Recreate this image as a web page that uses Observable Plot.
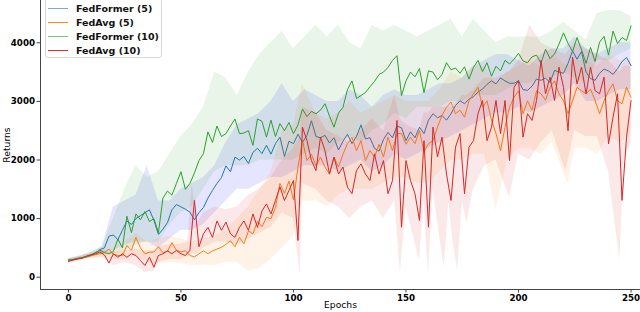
<!DOCTYPE html>
<html><head><meta charset="utf-8">
<script src="https://cdn.jsdelivr.net/npm/d3@7"></script>
<script src="https://cdn.jsdelivr.net/npm/@observablehq/plot@0.6"></script>
<style>
body{margin:0;background:#fff;}
#wrap{position:relative;width:640px;height:312px;overflow:hidden;}
svg text{font-family:"DejaVu Sans",sans-serif;}
g[aria-label="x-axis tick label"] text, g[aria-label="y-axis tick label"] text{font-weight:bold;}
g[aria-label="x-axis label"] text, g[aria-label="y-axis label"] text{font-size:9.2px;font-weight:normal;}
#legend{position:absolute;left:45px;top:-2px;width:115px;height:58px;border:1px solid #d6d6d6;border-radius:3px;background:rgba(255,255,255,0.85);font-family:"DejaVu Sans",sans-serif;font-weight:bold;font-size:9.5px;color:#111;}
#legend .row{position:absolute;left:0;height:14px;display:flex;align-items:center;}
#legend .sw{width:20px;height:0;border-top:1.5px solid;margin-left:2px;margin-right:8px;}
</style></head>
<body><div id="wrap"><div id="legend"></div></div>
<script>
const epochs = d3.range(0, 251, 2);
const xTicks = [0, 50, 100, 150, 200, 250];
const yTicks = [0, 1000, 2000, 3000, 4000];
const xDomain = [-12.4, 254.2];
const yDomain = [-210, 4722];

const names = ["FedFormer (5)", "FedAvg (5)", "FedFormer (10)", "FedAvg (10)"];
const lineColors = ["#1f77b4", "#ff7f0e", "#2ca02c", "#d62728"];
const bandColors = ["#0000ff", "#ff7f0e", "#2ca02c", "#d62728"];
const legendColors = ["#7aa9d6", "#ff8a24", "#7cc07c", "#e03030"];

const fedFormer5 = [
290,300,320,330,350,370,410,470,500,700,
720,640,800,960,900,1000,1050,1100,1150,970,
730,820,930,1150,1240,1200,1160,1110,980,1100,
1190,1350,1480,1600,1700,1900,1800,2050,2000,2060,
1940,2130,2200,2110,2250,2100,2280,2390,2060,2320,
2280,2440,2300,2420,2670,2400,2380,2420,2290,2380,
2170,2320,2440,2280,2400,2600,2360,2380,2200,2150,
2350,2470,2380,2580,2550,2330,2480,2380,2560,2450,
2680,2790,2720,2760,2680,2790,2930,3010,2960,3040,
3080,3160,3210,3290,3350,3300,3400,3350,3310,3310,
3350,3200,3190,3260,3380,3360,3400,3320,3530,3500,
3480,3650,3860,3720,3850,3500,3390,3360,3480,3550,
3520,3460,3560,3680,3750,3610];
const fedAvg5 = [
290,300,315,330,345,370,385,400,420,480,
390,370,370,540,460,680,500,400,425,430,
520,420,440,590,460,430,450,370,345,400,
450,400,450,480,510,560,620,520,680,570,
790,740,960,860,1020,1000,1190,1600,1430,1640,
1320,1880,2330,1990,2100,1900,2050,1880,1760,2050,
1880,2100,2280,2390,2160,2330,1990,2160,2050,2270,
2050,2390,2160,2450,2450,2270,2390,2280,2500,2140,
2280,2330,2560,2760,2900,2990,2790,2850,2730,3010,
3130,3240,2900,3010,2680,2450,2160,2560,2900,3070,
3180,2790,3010,2850,3180,3130,3020,3240,3350,3130,
3010,2790,3010,3240,3180,3130,3210,3020,2790,3010,
3180,3300,3010,2960,3240,3070];
const fedFormer10 = [
290,300,320,335,350,380,420,460,420,400,
440,650,500,1040,760,1080,980,1120,950,1000,
760,1350,1470,1400,1600,1800,1500,1600,1780,1990,
2110,2480,2300,2580,2400,2450,2580,2700,2450,2460,
2500,2250,2700,2660,2390,2680,2400,2620,2500,2640,
2450,2600,2870,2740,2830,2790,2850,2960,2750,2560,
2800,2900,3200,3350,3050,3100,3150,3250,3340,3460,
3500,3580,3700,3780,3100,3350,3500,3420,3560,3150,
3520,3500,3370,3460,3660,3540,3570,3480,3590,3380,
3580,3700,3510,3660,3430,3600,3520,3700,3640,3720,
3820,3690,3660,3760,3790,3650,3890,3730,3810,3980,
4170,3990,3850,4090,3880,3650,3920,3680,4010,4110,
3790,4200,3990,4090,4040,4290];
const fedAvg10 = [
270,290,310,320,360,380,400,430,380,240,
400,340,400,340,400,370,285,200,340,170,
370,400,450,400,455,400,370,460,1310,520,
740,850,680,960,800,940,740,680,850,960,
800,1080,850,1130,1250,1080,1310,1540,1310,1480,
1650,626,2560,2330,1990,1820,2390,2160,1760,2050,
1760,1880,1535,1425,1820,1935,1760,1650,2105,1760,
1990,1425,1650,2675,853,1990,1650,1425,967,2330,
853,2560,2050,2390,1760,1310,2220,2450,1425,2220,
2330,2790,3015,2330,2560,3015,2450,3015,1990,3240,
3357,2390,2790,2675,3015,3700,3130,3415,3015,3585,
3240,2500,3755,3300,3585,3130,3585,3185,3130,3415,
2275,2730,3130,1310,2390,3015];

// shaded spread bands (epoch, lower, upper)
const fedFormer5BandEpochs = [0,5,10,15,20,25,30,35,40,45,50,55,60,65,70,75,80,85,90,95,100,105,110,115,120,125,130,135,140,145,150,155,160,165,170,175,180,185,190,195,200,205,210,215,220,225,230,235,240,245,250];
const fedFormer5Lo = [260,300,340,420,450,550,600,600,500,650,800,800,900,1100,1300,1500,1500,1600,1700,1700,1800,1900,1900,1900,1800,1900,2000,1800,1900,2100,2000,2100,2200,2300,2400,2500,2600,2700,2800,2800,2900,2800,2900,3000,3100,3300,3000,3000,3100,3200,3200];
const fedFormer5Hi = [320,360,420,520,1200,1300,1400,1900,1300,1300,1500,1600,1700,1900,2300,2600,2700,2800,3000,3300,3000,3200,3100,3000,3000,3200,3100,2900,3100,3200,3100,3100,3200,3300,3300,3400,3600,3700,3800,3800,3700,3600,3800,3900,3900,4100,3900,3800,3900,4000,4000];

const fedAvg5BandEpochs = [0,5,10,15,20,25,30,35,40,45,50,55,60,65,70,75,80,85,90,95,100,104,110,115,120,125,130,135,140,145,150,155,160,165,170,175,180,185,190,195,200,205,210,215,222,225,230,235,240,245,250];
const fedAvg5Lo = [250,290,320,330,300,300,350,250,220,250,230,200,200,200,250,250,100,150,300,500,700,1300,1300,1200,1400,1500,1500,1500,1600,1700,1700,1600,1600,1800,2000,2000,2100,2100,1140,2000,2200,2200,2100,2300,1590,2200,2200,2100,2400,2300,2400];
const fedAvg5Hi = [310,350,400,450,480,600,750,600,650,700,650,600,650,700,800,1000,1200,1500,1800,2500,2600,3300,2800,2700,2800,3000,2800,2900,3000,3100,3000,3000,3000,3200,3500,3400,3600,3600,3300,3500,3600,3700,3600,3800,3600,3700,3700,3600,3800,3700,3700];

const fedFormer10BandEpochs = fedFormer5BandEpochs;
const fedFormer10Lo = [260,300,340,400,380,450,550,600,600,900,1100,1200,1500,1800,1900,1900,1900,2000,2000,2000,2000,2100,2200,2100,2300,2400,2300,2500,2600,2800,2700,2900,2900,2900,3000,3000,3100,3100,3100,3200,3300,3300,3400,3400,3500,3400,3300,3700,3700,3800,3900];
const fedFormer10Hi = [320,360,420,520,1000,1500,1900,1700,1800,2100,2400,2600,2900,3500,3400,3100,3500,3800,4000,4200,3900,4100,4300,4100,4300,4000,3900,4300,4200,4300,4200,4100,4200,4300,4400,4100,4400,4200,4000,4100,4100,4100,4100,4200,4350,4200,4050,4500,4550,4550,4450];

const fedAvg10BandEpochs = [0,5,10,15,20,25,30,34,38,40,45,50,53,55,57,60,65,70,75,80,85,90,95,100,103,104,110,115,120,125,130,135,140,145,147.5,150,156,158,160,162,167,169,171,173,175,177,180,185,190,196,200,205,210,215,221,225,230,235,240,245,247,250];
const fedAvg10Lo = [240,280,320,350,200,250,200,80,100,250,300,300,350,400,400,500,600,600,550,650,750,850,1100,1000,30,1600,1500,1300,1200,1000,1200,1300,1000,1300,60,1200,285,1300,30,1500,150,1300,570,115,1300,915,1500,1900,2000,1360,2100,2000,2300,2500,1800,2500,2400,2400,1800,285,2000,2300];
const fedAvg10Hi = [300,340,400,460,420,450,480,450,450,520,560,560,600,1600,900,1100,1200,1150,1200,1400,1500,1700,2000,2200,2400,2900,2800,2500,2400,2300,2500,2700,2500,3100,2700,2600,2500,2800,2800,2900,2900,2900,2900,3000,3100,3100,3200,3400,3400,3500,3700,4300,4000,3900,3800,4000,3900,3800,3700,3500,3600,3600];

const means = [fedFormer5, fedAvg5, fedFormer10, fedAvg10];
const bandEpochs = [fedFormer5BandEpochs, fedAvg5BandEpochs, fedFormer10BandEpochs, fedAvg10BandEpochs];
const los = [fedFormer5Lo, fedAvg5Lo, fedFormer10Lo, fedAvg10Lo];
const his = [fedFormer5Hi, fedAvg5Hi, fedFormer10Hi, fedAvg10Hi];
const opac = [0.1, 0.1, 0.1, 0.1];

const marks = [];
means.forEach((vals, s) => {
  const lineRows = epochs.map((e, i) => ({e, v: vals[i]}));
  const bandRows = bandEpochs[s].map((e, i) => ({e, lo: los[s][i], hi: his[s][i]}));
  marks.push(Plot.areaY(bandRows, {x: "e", y1: "lo", y2: "hi", fill: bandColors[s], fillOpacity: opac[s]}));
  marks.push(Plot.line(lineRows, {x: "e", y: "v", stroke: lineColors[s], strokeWidth: 1}));
});

const chart = Plot.plot({
  width: 640, height: 312,
  marginLeft: 40, marginRight: 0, marginTop: 0, marginBottom: 23,
  x: {domain: xDomain},
  y: {domain: yDomain},
  style: {fontFamily: "DejaVu Sans", fontSize: "8.7px", color: "#000", background: "#fff", overflow: "hidden"},
  marks: [
    ...marks,
    Plot.ruleX([xDomain[0]], {stroke: "#444", strokeWidth: 1}),
    Plot.ruleY([yDomain[0]], {stroke: "#444", strokeWidth: 1}),
    Plot.axisX({ticks: xTicks, tickFormat: d3.format("d"), tickSize: 3.5, tickPadding: 2, stroke: "#444", label: "Epochs", labelAnchor: "center", labelArrow: "none", labelOffset: 18}),
    Plot.axisY({ticks: yTicks, tickFormat: d3.format("d"), tickSize: 3.5, tickPadding: 2, stroke: "#444", label: "Returns", labelAnchor: "center", labelArrow: "none", labelOffset: 37})
  ]
});
const wrap = document.getElementById("wrap");
wrap.insertBefore(chart, wrap.firstChild);

const legend = document.getElementById("legend");
names.forEach((n, i) => {
  const row = document.createElement("div");
  row.className = "row";
  row.style.top = (2 + i * 14) + "px";
  const sw = document.createElement("div");
  sw.className = "sw";
  sw.style.borderTopColor = legendColors[i];
  const t = document.createElement("span");
  t.textContent = n;
  row.appendChild(sw); row.appendChild(t);
  legend.appendChild(row);
});
</script></body></html>
